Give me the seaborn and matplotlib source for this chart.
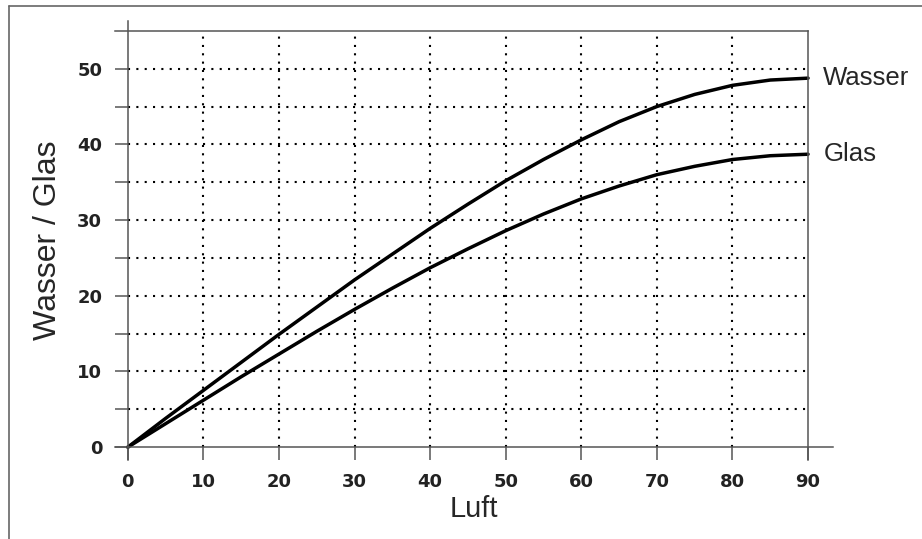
import numpy as np
import pandas as pd
import matplotlib.pyplot as plt
from matplotlib.lines import Line2D
import seaborn as sns

# Brechungswinkel: Luft -> Wasser / Glas
luft = [0, 5, 10, 15, 20, 25, 30, 35, 40, 45, 50, 55, 60, 65, 70, 75, 80, 85, 90]
wasser = [0, 3.8, 7.5, 11.2, 14.9, 18.5, 22.1, 25.5, 28.9, 32.1, 35.2, 38.0,
          40.6, 43.0, 45.0, 46.6, 47.8, 48.5, 48.75]
glas = [0, 3.1, 6.2, 9.3, 12.3, 15.3, 18.2, 21.0, 23.7, 26.2, 28.6, 30.8,
        32.8, 34.5, 36.0, 37.1, 38.0, 38.5, 38.7]

x_ticks = [0, 10, 20, 30, 40, 50, 60, 70, 80, 90]
y_ticks = [0, 10, 20, 30, 40, 50]

df = pd.DataFrame({"Luft": luft, "Wasser": wasser, "Glas": glas})

sns.set_theme(style="white")
plt.rcParams["font.family"] = ["DejaVu Sans"]

fig = plt.figure(figsize=(9.22, 5.39), dpi=100)
ax = fig.add_axes([115 / 922, 79 / 539, 718 / 922, 439 / 539])

for name in ["Wasser", "Glas"]:
    sns.lineplot(data=df, x="Luft", y=name, ax=ax, color="black", lw=2.5)
    ax.annotate(name, xy=(df["Luft"].iloc[-1], df[name].iloc[-1]),
                xytext=(11, 0), textcoords="offset points",
                va="center", ha="left", fontsize=18.5,
                family="Liberation Sans", annotation_clip=False)

ax.set_xlim(-1.7, 93.3)
ax.set_ylim(-1.7, 56.3)

# dotted grid
for v in x_ticks[1:-1]:
    ax.plot([v, v], [0, 55], color="black", lw=1.5, ls=(0, (1, 3.0)), zorder=0)
for v in np.arange(5, 55, 5):
    ax.plot([0, 90], [v, v], color="black", lw=1.5, ls=(0, (1, 3.0)), zorder=0)

# axis frame in the old style
sp_col = "#555555"
for s in ax.spines.values():
    s.set_visible(True)
    s.set_color(sp_col)
    s.set_linewidth(1.1)
ax.spines["left"].set_position(("data", 0))
ax.spines["bottom"].set_position(("data", 0))
ax.spines["top"].set_position(("data", 55))
ax.spines["top"].set_bounds(-1.7, 90)
ax.spines["right"].set_position(("data", 90))
ax.spines["right"].set_bounds(-1.7, 55)

ax.set_xticks(x_ticks)
ax.set_yticks(np.arange(0, 55, 5))
ax.set_yticklabels([str(v) if v in y_ticks else "" for v in np.arange(0, 55, 5)])
ax.tick_params(axis="both", direction="out", length=9.4, width=1.1,
               color=sp_col, labelsize=13, pad=9, labelcolor="#222222",
               bottom=True, left=True, top=False, right=False)
for lab in ax.get_xticklabels() + ax.get_yticklabels():
    lab.set_fontweight("bold")

ax.set_xlabel("Luft", fontsize=21, family="Liberation Sans", labelpad=3)
ax.set_ylabel("Wasser / Glas", fontsize=23, family="Liberation Sans", labelpad=10)

# outer frame
fig.add_artist(Line2D([9 / 922, 1.0], [533 / 539, 533 / 539], color="#666666", lw=1.2))
fig.add_artist(Line2D([9 / 922, 9 / 922], [0, 533 / 539], color="#666666", lw=1.2))

fig.savefig("out.png", dpi=100, facecolor="white")
